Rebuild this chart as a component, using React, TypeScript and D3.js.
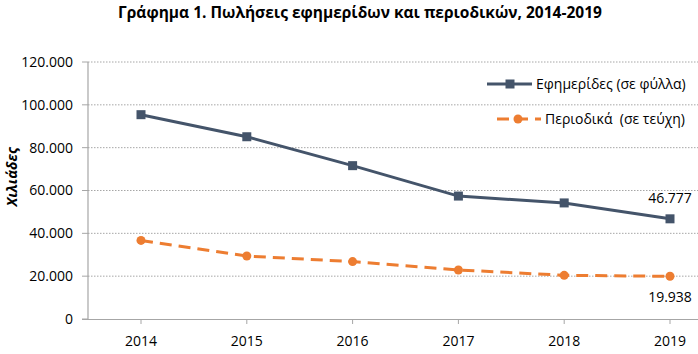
import React from 'react';
import * as d3 from 'd3';

// data
const years = ['2014', '2015', '2016', '2017', '2018', '2019'];
const newspapers = [95400, 85100, 71600, 57400, 54200, 46777];
const magazines = [36700, 29400, 26800, 22900, 20400, 19938];
const yTicks = [0, 20000, 40000, 60000, 80000, 100000, 120000];

const W = 698, H = 354;
const FONT = "'Open Sans', sans-serif";
const BLUE = '#44546A';
const ORANGE = '#ED7D31';

const fmt = (v: number) => d3.format(',')(v).replace(/,/g, '.');

export default function App() {
  const x = d3.scalePoint<string>().domain(years).range([141, 670]);
  const y = d3.scaleLinear().domain([0, 120000]).range([319, 62]);

  const line = d3.line<number>()
    .x((d, i) => x(years[i]) as number)
    .y(d => y(d));

  return (
    <svg width={W} height={H} style={{ position: 'absolute', left: 0, top: 0, fontFamily: FONT }}>
      <rect width={W} height={H} fill="#fff" />
      <text x={360} y={18} textAnchor="middle" fontSize={15.5} fontWeight="bold" fill="#000">
        Γράφημα 1. Πωλήσεις εφημερίδων και περιοδικών, 2014-2019
      </text>

      {/* grid */}
      {yTicks.filter(t => t > 0).map(t => (
        <line key={t} x1={88} x2={W} y1={y(t)} y2={y(t)} stroke="#a6a6a6" strokeWidth={1} strokeDasharray="1.5,1.5" />
      ))}
      {/* axes */}
      <line x1={88} x2={88} y1={62} y2={319.5} stroke="#a6a6a6" strokeWidth={1.2} />
      <line x1={82} x2={W} y1={319.5} y2={319.5} stroke="#a6a6a6" strokeWidth={1.2} />
      {yTicks.map(t => (
        <g key={t}>
          <line x1={82} x2={88} y1={y(t)} y2={y(t)} stroke="#a6a6a6" strokeWidth={1} />
          <text x={73} y={y(t)} dy="0.35em" textAnchor="end" fontSize={14} fill="#000">{fmt(t)}</text>
        </g>
      ))}
      {years.map(yr => (
        <g key={yr}>
          <line x1={x(yr)} x2={x(yr)} y1={319.5} y2={324} stroke="#a6a6a6" strokeWidth={1} />
          <text x={x(yr)} y={341} dy="0.35em" textAnchor="middle" fontSize={14} fill="#000">{yr}</text>
        </g>
      ))}
      <text transform={`translate(17,177) rotate(-90)`} textAnchor="middle" fontSize={14.5} fontWeight="bold" fontStyle="italic" fill="#000">
        Χιλιάδες
      </text>

      {/* series */}
      <path d={line(magazines) || ''} fill="none" stroke={ORANGE} strokeWidth={3} strokeDasharray="12,7" />
      {magazines.map((v, i) => (
        <circle key={i} cx={x(years[i])} cy={y(v)} r={4.5} fill={ORANGE} />
      ))}
      <path d={line(newspapers) || ''} fill="none" stroke={BLUE} strokeWidth={3} />
      {newspapers.map((v, i) => (
        <rect key={i} x={(x(years[i]) as number) - 4.5} y={y(v) - 4.5} width={9} height={9} fill={BLUE} />
      ))}

      {/* data labels */}
      <text x={x('2019')} y={y(newspapers[5]) - 21} dy="0.35em" textAnchor="middle" fontSize={14} fill="#000">{fmt(newspapers[5])}</text>
      <text x={x('2019')} y={y(magazines[5]) + 21} dy="0.35em" textAnchor="middle" fontSize={14} fill="#000">{fmt(magazines[5])}</text>

      {/* legend */}
      <line x1={487} x2={532} y1={84} y2={84} stroke={BLUE} strokeWidth={3} />
      <rect x={505.5} y={79.5} width={9} height={9} fill={BLUE} />
      <text x={536} y={84} dy="0.35em" fontSize={14} fill="#000">Εφημερίδες (σε φύλλα)</text>
      <line x1={497} x2={541} y1={119} y2={119} stroke={ORANGE} strokeWidth={3} strokeDasharray="12,7" />
      <circle cx={518} cy={119} r={4.5} fill={ORANGE} />
      <text x={545} y={119} dy="0.35em" fontSize={14} fill="#000" style={{ whiteSpace: 'pre' }}>Περιοδικά  (σε τεύχη)</text>
    </svg>
  );
}
